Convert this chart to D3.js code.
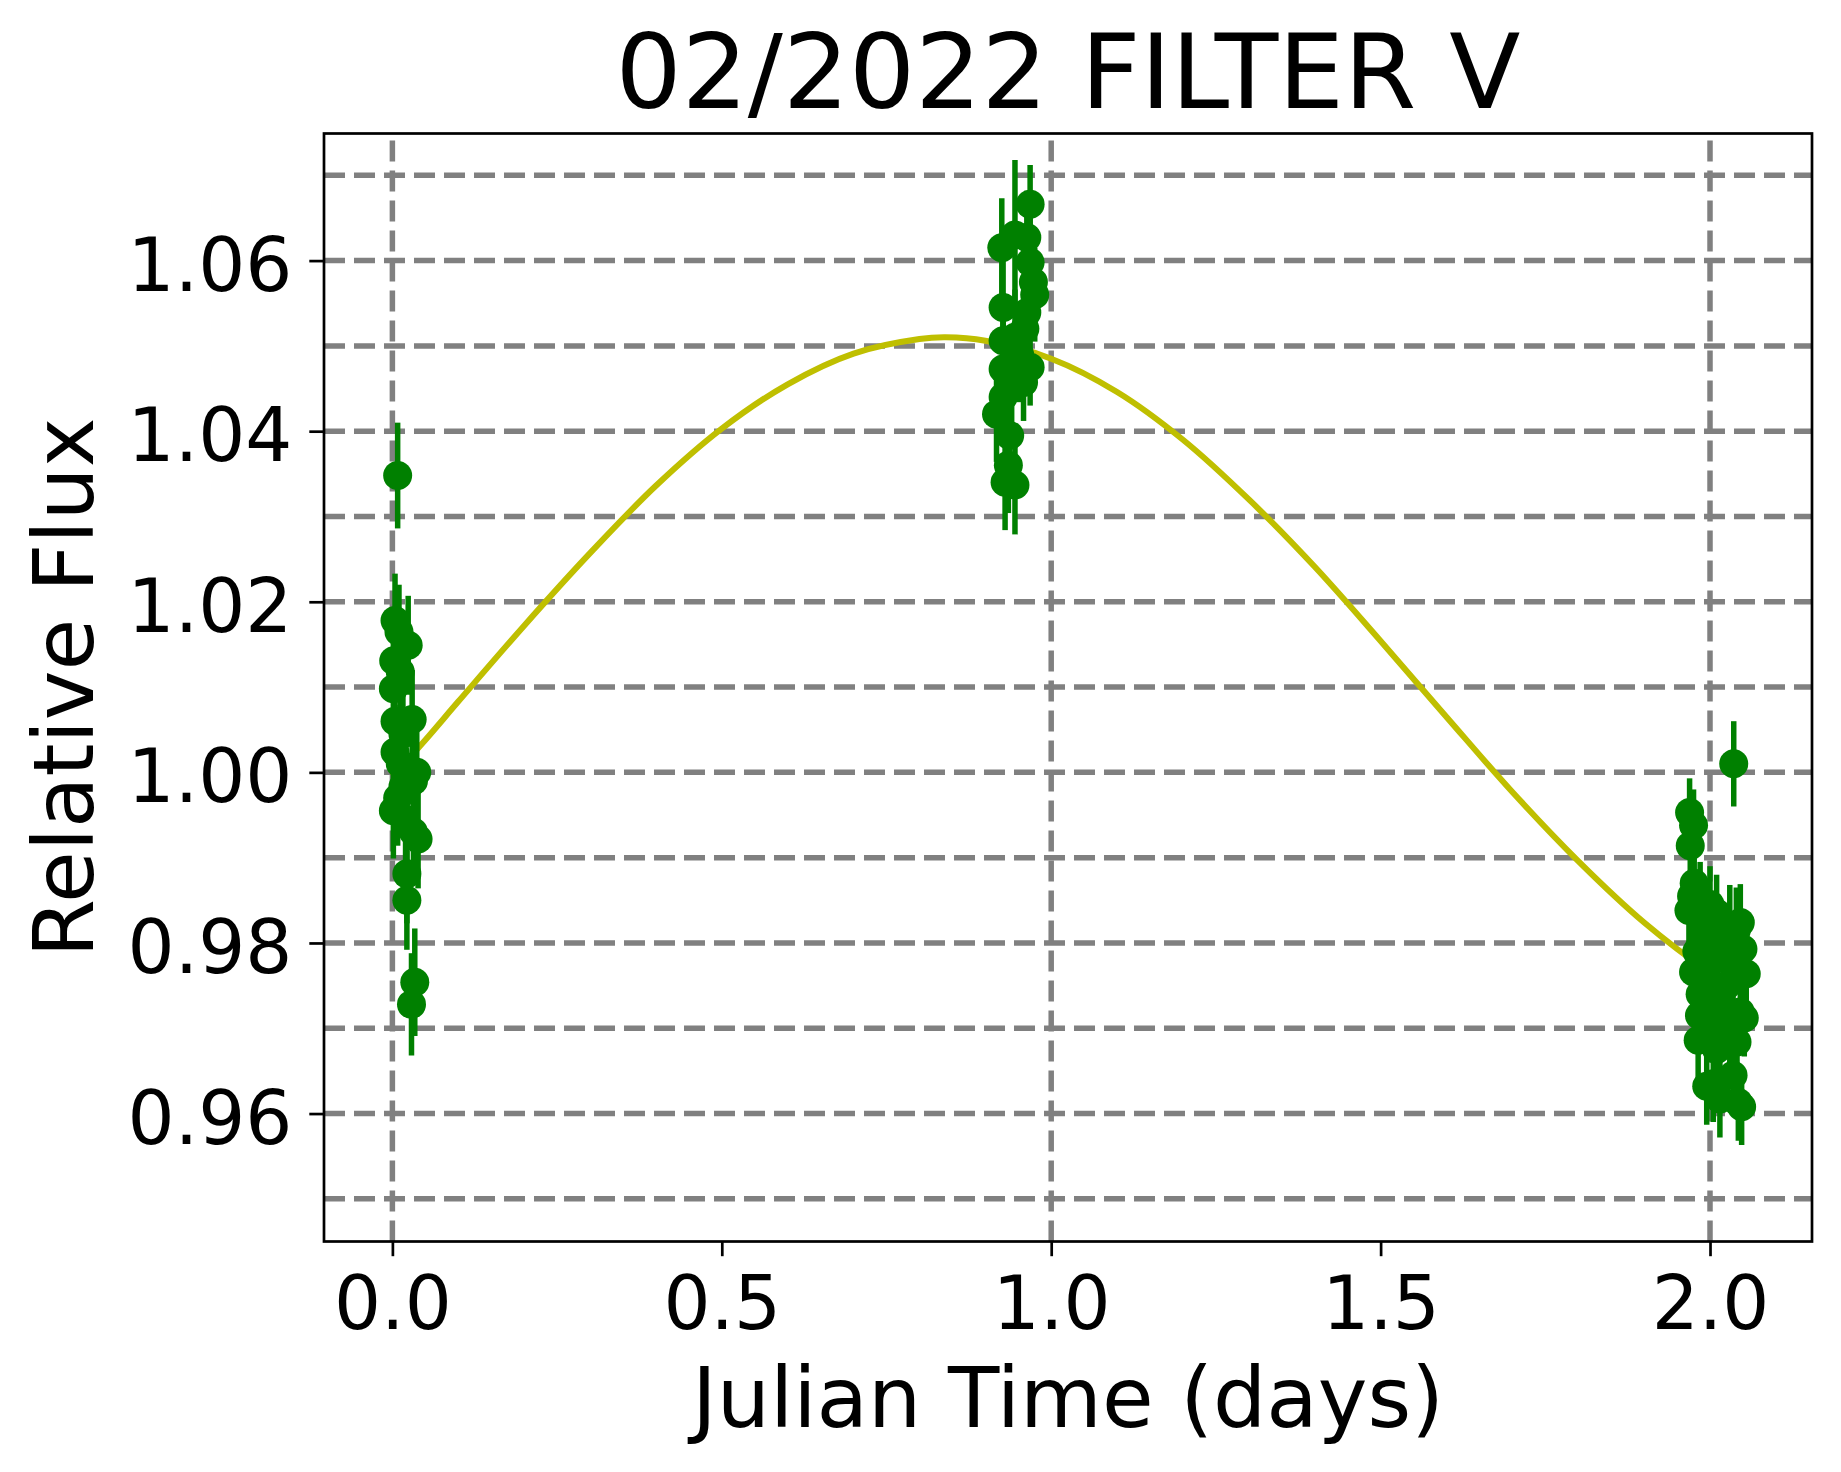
<!DOCTYPE html>
<html>
<head>
<meta charset="utf-8">
<script src="https://cdn.jsdelivr.net/npm/d3@7"></script>
<style>
  body { margin: 0; background: #fff; }
  text { font-family: "DejaVu Sans", sans-serif; fill: #000; }
</style>
</head>
<body>
<div id="viz_container"></div>
<script>
// observations (time in days, relative flux, error)
const obsTime = [
  0.008, 0.004, 0.010, 0.024, 0.002, 0.012, 0.0015, 0.004, 0.030, 0.016, 0.004, 0.012,
  0.037, 0.032, 0.016, 0.008, 0.0015, 0.020, 0.032, 0.039, 0.022, 0.022, 0.034, 0.029,
  0.968, 0.925, 0.963, 0.945, 0.968, 0.973, 0.975, 0.927, 0.963, 0.960, 0.945, 0.927,
  0.952, 0.968, 0.927, 0.958, 0.940, 0.927, 0.917, 0.937, 0.935, 0.930, 0.945,
  2.036, 1.969, 1.975, 1.970, 1.976, 1.972, 1.985, 1.968, 2.000, 2.010, 2.046, 2.030,
  2.040, 1.990, 2.020, 2.050, 1.980, 2.005, 2.035, 1.975, 2.055, 1.995, 2.025, 1.985,
  2.012, 2.046, 1.984, 2.000, 2.030, 2.052, 1.982, 2.041, 2.010, 2.035, 2.005, 1.995,
  2.015, 2.048, 2.043
];
const obsFlux = [
  1.0348, 1.0178, 1.0165, 1.0149, 1.0131, 1.0118, 1.0098, 1.0060, 1.0062, 1.0045, 1.0024, 1.0010,
  1.0000, 0.9990, 0.9983, 0.9970, 0.9955, 0.9945, 0.9930, 0.9922, 0.9881, 0.9850, 0.9754, 0.9728,
  1.0666, 1.0615, 1.0627, 1.0630, 1.0598, 1.0575, 1.0560, 1.0545, 1.0539, 1.0520, 1.0510, 1.0506,
  1.0490, 1.0475, 1.0473, 1.0457, 1.0450, 1.0440, 1.0420, 1.0395, 1.0360, 1.0340, 1.0337,
  1.0010, 0.9953, 0.9938, 0.9914, 0.9870, 0.9855, 0.9850, 0.9838, 0.9845, 0.9835, 0.9824, 0.9820,
  0.9815, 0.9810, 0.9800, 0.9793, 0.9790, 0.9780, 0.9775, 0.9766, 0.9764, 0.9755, 0.9750, 0.9740,
  0.9730, 0.9719, 0.9715, 0.9705, 0.9700, 0.9712, 0.9686, 0.9684, 0.9675, 0.9645, 0.9635, 0.9632,
  0.9617, 0.9608, 0.9613
];
const obsErr = [
  0.0062, 0.0055, 0.0055, 0.0058, 0.0055, 0.0055, 0.0055, 0.0055, 0.0058, 0.0056, 0.0055, 0.0056,
  0.0058, 0.0058, 0.0056, 0.0056, 0.0056, 0.0057, 0.0058, 0.0058, 0.0058, 0.0058, 0.0063, 0.0060,
  0.0046, 0.0058, 0.0055, 0.0088, 0.0055, 0.0055, 0.0055, 0.0056, 0.0055, 0.0055, 0.0056, 0.0056,
  0.0056, 0.0045, 0.0056, 0.0045, 0.0056, 0.0056, 0.0056, 0.0056, 0.0056, 0.0056, 0.0058,
  0.0050, 0.0040, 0.0042, 0.0042, 0.0045, 0.0045, 0.0045, 0.0045, 0.0045, 0.0045, 0.0045, 0.0048,
  0.0050, 0.0045, 0.0045, 0.0045, 0.0045, 0.0045, 0.0045, 0.0045, 0.0045, 0.0045, 0.0045, 0.0045,
  0.0045, 0.0045, 0.0045, 0.0045, 0.0045, 0.0045, 0.0045, 0.0045, 0.0045, 0.0045, 0.0045, 0.0045,
  0.0045, 0.0045, 0.0045
];

// fitted curve
const fitTime = [0.00, 0.05, 0.10, 0.20, 0.30, 0.40, 0.50, 0.60, 0.70, 0.80, 0.84, 0.90, 1.00,
  1.10, 1.20, 1.30, 1.40, 1.50, 1.60, 1.70, 1.80, 1.90, 2.00, 2.05];
const fitFlux = [0.9995, 1.0038, 1.0083, 1.0172, 1.0257, 1.0336, 1.0403, 1.0455, 1.0491, 1.0508, 1.0510, 1.0506, 1.0485,
  1.0446, 1.0390, 1.0320, 1.0241, 1.0154, 1.0065, 0.9977, 0.9896, 0.9824, 0.9765, 0.9741];

// ticks and grid
const xTicks = [0.0, 0.5, 1.0, 1.5, 2.0];
const yTicks = [0.96, 0.98, 1.00, 1.02, 1.04, 1.06];
const xGrid = [0, 1, 2];
const yGrid = [0.95, 0.96, 0.97, 0.98, 0.99, 1.00, 1.01, 1.02, 1.03, 1.04, 1.05, 1.06, 1.07];

const width = 1841, height = 1472;
const margin = {left: 324, right: 29, top: 133.5, bottom: 230.5};

const svg = d3.select("#viz_container")
  .append("svg")
    .attr("width", width)
    .attr("height", height);

svg.append("rect").attr("width", width).attr("height", height).attr("fill", "#fff");

const xScale = d3.scaleLinear()
  .domain([-0.1038, 2.1548])
  .range([margin.left, width - margin.right]);
const yScale = d3.scaleLinear()
  .domain([0.945, 1.0749])
  .range([height - margin.bottom, margin.top]);

const plot = svg.append("g")
  .attr("clip-path", "url(#clip)");
svg.append("clipPath").attr("id", "clip")
  .append("rect")
    .attr("x", margin.left).attr("y", margin.top)
    .attr("width", width - margin.left - margin.right)
    .attr("height", height - margin.top - margin.bottom);

// grid lines
plot.selectAll(".hgrid")
  .data(yGrid)
  .join("line")
    .attr("x1", margin.left)
    .attr("x2", width - margin.right)
    .attr("y1", d => yScale(d))
    .attr("y2", d => yScale(d))
    .attr("stroke", "#808080")
    .attr("stroke-width", 5.5)
    .attr("stroke-dasharray", "21,9");
plot.selectAll(".vgrid")
  .data(xGrid)
  .join("line")
    .attr("x1", d => xScale(d))
    .attr("x2", d => xScale(d))
    .attr("y1", height - margin.bottom)
    .attr("y2", margin.top)
    .attr("stroke", "#808080")
    .attr("stroke-width", 5.5)
    .attr("stroke-dasharray", "21,9");

// fit line
const line = d3.line()
  .x(d => xScale(d[0]))
  .y(d => yScale(d[1]))
  .curve(d3.curveCatmullRom);
plot.append("path")
  .datum(fitTime.map((t, i) => [t, fitFlux[i]]))
  .attr("d", line)
  .attr("fill", "none")
  .attr("stroke", "#bfbf00")
  .attr("stroke-width", 6);

// data with error bars
const obs = obsTime.map((t, i) => ({t: t, f: obsFlux[i], e: obsErr[i]}));
plot.selectAll(".err")
  .data(obs)
  .join("line")
    .attr("x1", d => xScale(d.t))
    .attr("x2", d => xScale(d.t))
    .attr("y1", d => yScale(d.f - d.e))
    .attr("y2", d => yScale(d.f + d.e))
    .attr("stroke", "#008000")
    .attr("stroke-width", 5.5);
plot.selectAll(".pt")
  .data(obs)
  .join("circle")
    .attr("cx", d => xScale(d.t))
    .attr("cy", d => yScale(d.f))
    .attr("r", 14.5)
    .attr("fill", "#008000");

// frame
svg.append("rect")
  .attr("x", margin.left)
  .attr("y", margin.top)
  .attr("width", width - margin.left - margin.right)
  .attr("height", height - margin.top - margin.bottom)
  .attr("fill", "none")
  .attr("stroke", "#000")
  .attr("stroke-width", 2.7);

// axes
const xAxis = svg.append("g")
  .attr("transform", `translate(0, ${height - margin.bottom})`)
  .call(d3.axisBottom(xScale).tickValues(xTicks).tickFormat(d3.format(".1f")).tickSize(14.7).tickPadding(20));
const yAxis = svg.append("g")
  .attr("transform", `translate(${margin.left}, 0)`)
  .call(d3.axisLeft(yScale).tickValues(yTicks).tickFormat(d3.format(".2f")).tickSize(14.7).tickPadding(17));
[xAxis, yAxis].forEach(g => {
  g.select(".domain").remove();
  g.selectAll(".tick line").attr("stroke", "#000").attr("stroke-width", 2.7);
  g.selectAll(".tick text")
    .attr("fill", "#000")
    .style("font-family", "'DejaVu Sans', sans-serif")
    .style("font-size", "74px");
});
yAxis.selectAll(".tick text").attr("dy", "0.40em");

// labels
svg.append("text")
  .attr("x", (margin.left + width - margin.right) / 2)
  .attr("y", 108)
  .attr("text-anchor", "middle")
  .style("font-size", "104px")
  .text("02/2022 FILTER V");

svg.append("text")
  .attr("x", (margin.left + width - margin.right) / 2)
  .attr("y", 1427)
  .attr("text-anchor", "middle")
  .style("font-size", "84px")
  .text("Julian Time (days)");

svg.append("text")
  .attr("transform", `translate(93, ${(margin.top + height - margin.bottom) / 2}) rotate(-90)`)
  .attr("text-anchor", "middle")
  .style("font-size", "84px")
  .text("Relative Flux");
</script>
</body>
</html>
